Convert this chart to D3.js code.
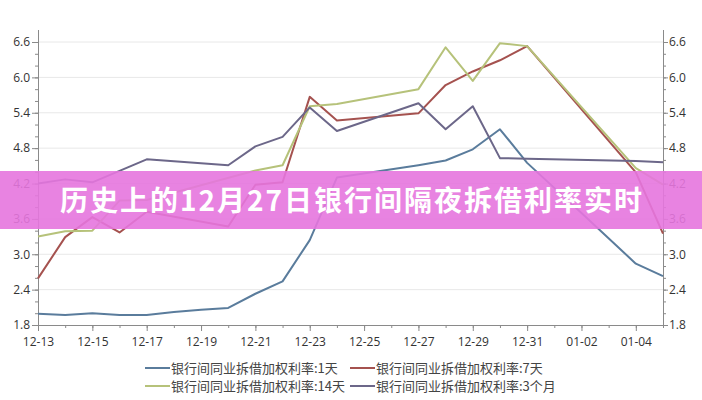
<!DOCTYPE html>
<html><head><meta charset="utf-8">
<script src="https://cdn.jsdelivr.net/npm/d3@7/dist/d3.min.js"></script>
<style>
html,body{margin:0;padding:0;background:#fff;}
svg{display:block;}
text{font-family:"Open Sans","Noto Sans CJK SC",sans-serif;}
</style></head>
<body>
<svg id="chart" width="702" height="400"></svg>
<script>
const dates = ["2016-12-13","2016-12-14","2016-12-15","2016-12-16","2016-12-17","2016-12-18","2016-12-19","2016-12-20","2016-12-21","2016-12-22","2016-12-23","2016-12-24","2016-12-27","2016-12-28","2016-12-29","2016-12-30","2016-12-31","2017-01-02","2017-01-04","2017-01-05"];
const rate1D  = [1.99,1.97,2.00,1.97,1.97,2.02,2.06,2.09,2.33,2.54,3.24,4.30,4.51,4.59,4.78,5.12,4.55,3.70,2.84,2.63];
const rate7D  = [2.59,3.29,3.63,3.37,3.72,null,null,3.47,4.18,4.22,5.67,5.27,5.39,5.87,6.10,6.29,6.53,null,4.39,3.35];
const rate14D = [3.30,3.39,3.40,3.91,3.92,null,null,null,4.42,4.51,5.51,5.55,5.80,6.51,5.94,6.58,6.53,null,4.46,4.18];
const rate3M  = [4.20,4.27,4.22,null,4.61,null,null,4.51,4.83,4.99,5.49,5.09,5.56,5.12,5.51,4.63,4.62,null,4.58,4.56];
const seriesNames = ["银行间同业拆借加权利率:1天","银行间同业拆借加权利率:7天","银行间同业拆借加权利率:14天","银行间同业拆借加权利率:3个月"];
const seriesColors = ["#5a7c9c","#a5524f","#b6c27a","#6c6789"];
const yTicks = [1.8,2.4,3.0,3.6,4.2,4.8,5.4,6.0,6.6];
const title = "历史上的12月27日银行间隔夜拆借利率实时";

const svg = d3.select("#chart");
const parse = d3.utcParse("%Y-%m-%d");
const x = d3.scaleUtc().domain([parse("2016-12-13"), parse("2017-01-05")]).range([38, 663]);
const y = d3.scaleLinear().domain([1.8, 6.6]).range([325, 42]);

// grid
svg.append("g").selectAll("line").data(yTicks.slice(1)).join("line")
  .attr("x1", 38).attr("x2", 663).attr("y1", d => y(d)).attr("y2", d => y(d))
  .attr("stroke", "#e8e8e8").attr("stroke-width", 1);

const axisColor = "#8a8a8a";
const minorY = d3.range(0, 25).map(i => +(1.8 + i * 0.2).toFixed(1));

function styleAxis(g) {
  g.selectAll(".domain").attr("stroke", axisColor);
  g.selectAll(".tick line").attr("stroke", axisColor);
  g.selectAll(".tick text").attr("fill", "#333").style("font-size", "12px");
}

// left axis
const gl = svg.append("g").attr("transform", "translate(38,0)")
  .call(d3.axisLeft(y).tickValues(minorY).tickSize(3).tickFormat("").tickSizeOuter(0));
gl.call(styleAxis);
gl.append("g").call(d3.axisLeft(y).tickValues(yTicks).tickSize(6).tickPadding(2).tickFormat(d3.format(".1f")).tickSizeOuter(0)).call(styleAxis);
gl.selectAll(".domain").remove();
gl.append("line").attr("x1", 0.5).attr("x2", 0.5).attr("y1", 30).attr("y2", 325).attr("stroke", axisColor);

// right axis
const gr = svg.append("g").attr("transform", "translate(663,0)")
  .call(d3.axisRight(y).tickValues(minorY).tickSize(3).tickFormat("").tickSizeOuter(0));
gr.call(styleAxis);
gr.append("g").call(d3.axisRight(y).tickValues(yTicks).tickSize(5).tickPadding(1).tickFormat(d3.format(".1f")).tickSizeOuter(0)).call(styleAxis);
gr.selectAll(".domain").remove();
gr.append("line").attr("x1", 0.5).attr("x2", 0.5).attr("y1", 30).attr("y2", 325).attr("stroke", axisColor);

// x axis
const dayTicks = d3.utcDay.range(parse("2016-12-13"), d3.utcDay.offset(parse("2017-01-05"), 1));
const majorX = dayTicks.filter((d, i) => i % 2 === 0 && i < 23);
const gx = svg.append("g").attr("transform", "translate(0,325)")
  .call(d3.axisBottom(x).tickValues(dayTicks).tickSize(3).tickFormat("").tickSizeOuter(0));
gx.call(styleAxis);
gx.append("g").call(d3.axisBottom(x).tickValues(majorX).tickSize(6).tickPadding(6).tickFormat(d3.utcFormat("%m-%d")).tickSizeOuter(0)).call(styleAxis);
gx.selectAll(".domain").remove();
gx.append("line").attr("x1", 38).attr("x2", 663).attr("y1", 0.5).attr("y2", 0.5).attr("stroke", axisColor);

// lines
const allSeries = [rate1D, rate7D, rate14D, rate3M];
const line = d3.line().x(d => x(d[0])).y(d => y(d[1]));
allSeries.forEach((vals, i) => {
  const pts = dates.map((d, j) => [parse(d), vals[j]]).filter(p => p[1] !== null);
  svg.append("path").datum(pts).attr("d", line)
    .attr("fill", "none").attr("stroke", seriesColors[i]).attr("stroke-width", 2)
    .attr("stroke-linejoin", "round");
});

// legend
const legPos = [[145, 368], [350, 368], [145, 386], [350, 386]];
seriesNames.forEach((name, i) => {
  const [lx, ly] = legPos[i];
  svg.append("line").attr("x1", lx).attr("x2", lx + 25).attr("y1", ly).attr("y2", ly)
    .attr("stroke", seriesColors[i]).attr("stroke-width", 2);
  svg.append("text").attr("x", lx + 26).attr("y", ly + 4.5).text(name)
    .attr("fill", "#444").style("font-size", "13px").style("font-family", "'Noto Sans CJK SC',sans-serif");
});

// banner
svg.append("rect").attr("x", 0).attr("y", 171).attr("width", 702).attr("height", 58)
  .attr("fill", "rgb(230,118,222)").attr("opacity", 0.9);
svg.append("text").attr("x", 352).attr("y", 211).attr("text-anchor", "middle")
  .text(title).attr("fill", "#fff")
  .style("font-size", "28px").style("font-weight", "bold").style("letter-spacing", "2px")
  .style("font-family", "'Noto Sans CJK SC',sans-serif");
</script>
</body></html>
